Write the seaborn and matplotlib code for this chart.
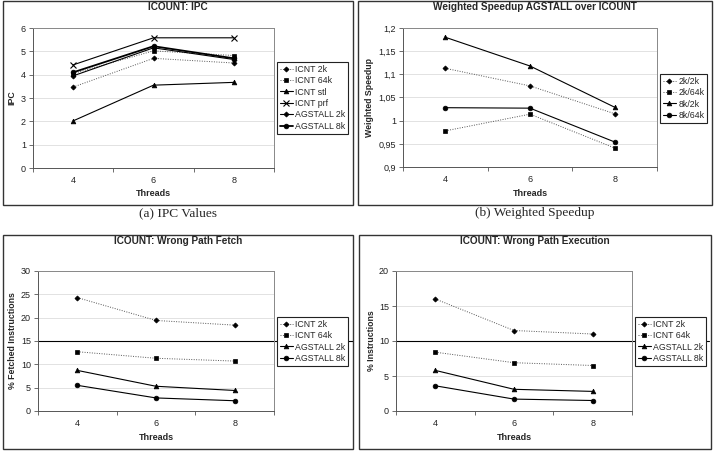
import numpy as np
import seaborn as sns
from matplotlib import pyplot as plt
from matplotlib.patches import Rectangle
from matplotlib.ticker import FixedLocator, FuncFormatter

threads = [4, 6, 8]

# (a) ICOUNT: IPC
ipc_labels = ['ICNT 2k', 'ICNT 64k', 'ICNT stl', 'ICNT prf', 'AGSTALL 2k', 'AGSTALL 8k']
ipc_icnt_2k = [3.47, 4.70, 4.50]
ipc_icnt_64k = [4.05, 5.02, 4.82]
ipc_icnt_stl = [2.02, 3.55, 3.67]
ipc_icnt_prf = [4.42, 5.58, 5.58]
ipc_agstall_2k = [3.95, 5.15, 4.65]
ipc_agstall_8k = [4.10, 5.22, 4.70]

# (b) Weighted speedup AGSTALL over ICOUNT
ws_labels = ['2k/2k', '2k/64k', '8k/2k', '8k/64k']
ws_2k_2k = [1.113, 1.075, 1.015]
ws_2k_64k = [0.978, 1.014, 0.941]
ws_8k_2k = [1.180, 1.118, 1.029]
ws_8k_64k = [1.028, 1.027, 0.954]

# wrong path fetch / execution
wp_labels = ['ICNT 2k', 'ICNT 64k', 'AGSTALL 2k', 'AGSTALL 8k']
fetch_icnt_2k = [24.3, 19.4, 18.4]
fetch_icnt_64k = [12.7, 11.3, 10.7]
fetch_agstall_2k = [8.7, 5.3, 4.4]
fetch_agstall_8k = [5.5, 2.8, 2.2]
exec_icnt_2k = [16.0, 11.5, 11.0]
exec_icnt_64k = [8.4, 6.9, 6.5]
exec_agstall_2k = [5.8, 3.1, 2.8]
exec_agstall_8k = [3.6, 1.7, 1.5]

sns.set_style('white')
plt.rcParams['font.family'] = ['Liberation Sans', 'DejaVu Sans']

W, H = 715, 453
fig = plt.figure(figsize=(W / 100, H / 100), dpi=100)


def fx(px):
    return px / W


def fy(py):
    return 1 - py / H


dotted = dict(color='#555555', linestyle=(0, (1, 1.5)), linewidth=0.7)
solid = dict(color='black', linestyle='-', linewidth=0.8)
thick = dict(color='black', linestyle='-', linewidth=1.3)

mk = {
    'D': dict(marker='D', markersize=2.6),
    's': dict(marker='s', markersize=3.2),
    '^': dict(marker='^', markersize=3.4),
    'x': dict(marker='x', markersize=4, markeredgewidth=0.8),
    'o': dict(marker='o', markersize=3.4),
}


def panel(box, axpos, title, ylabel, ylim, yticks, series, legpos,
          ylab_x, fmt=None, black_line=None):
    x0, y0, x1, y1 = box
    fig.add_artist(Rectangle((fx(x0), fy(y1)), fx(x1 - x0), (y1 - y0) / H,
                             transform=fig.transFigure, fill=False,
                             edgecolor='#333333', linewidth=1.0))
    l, t, r, b = axpos
    ax = fig.add_axes([fx(l), fy(b), fx(r - l), (b - t) / H])
    for lab, vals, style, m in series:
        kw = dict(style)
        kw.update(mk[m])
        kw.setdefault('markeredgewidth', 0.5)
        kw['markeredgecolor'] = 'black'
        kw['markerfacecolor'] = 'black'
        sns.lineplot(x=threads, y=vals, ax=ax, label=lab, **kw)
    ax.set_xlim(3, 9)
    ax.set_ylim(*ylim)
    ax.set_yticks(yticks)
    if fmt:
        ax.yaxis.set_major_formatter(FuncFormatter(fmt))
    ax.xaxis.set_major_locator(FixedLocator([3, 5, 7, 9]))
    ax.xaxis.set_minor_locator(FixedLocator(threads))
    ax.set_xticklabels([])
    ax.set_xticklabels([str(t) for t in threads], minor=True)
    ax.tick_params(axis='x', which='major', direction='out', length=3,
                   width=0.6, color='#555555', bottom=True)
    ax.tick_params(axis='x', which='minor', length=0, labelsize=6.5,
                   pad=6, labelcolor='#222222')
    ax.tick_params(axis='y', direction='out', length=3, width=0.6,
                   color='#555555', left=True, labelsize=6.5, pad=2,
                   labelcolor='#222222')
    ax.yaxis.grid(True, color='#dddddd', linewidth=0.6)
    ax.set_axisbelow(True)
    for s in ax.spines.values():
        s.set_color('#888888')
        s.set_linewidth(0.7)
    ax.spines['left'].set_color('#555555')
    ax.spines['bottom'].set_color('#555555')
    ax.set_xlabel('')
    ax.set_ylabel('')
    if black_line is not None:
        ax.axhline(black_line[0], xmin=0, xmax=black_line[1], color='black',
                   linewidth=0.8, clip_on=False, zorder=1)
    cx = (x0 + x1) / 2
    fig.text(fx(cx), fy(y0 + 6), title, ha='center', va='center',
             fontsize=7.2, fontweight='bold')
    fig.text(fx((l + r) / 2), fy(y1 - 12), 'Threads', ha='center',
             va='center', fontsize=6.5, fontweight='bold')
    fig.text(fx(ylab_x), fy((t + b) / 2), ylabel, ha='center', va='center',
             rotation=90, fontsize=6.3, fontweight='bold')
    handles, labels = ax.get_legend_handles_labels()
    ax.legend(handles=handles, labels=labels, loc='upper left',
              bbox_to_anchor=(fx(legpos[0]), fy(legpos[1])),
              bbox_transform=fig.transFigure, frameon=True, fancybox=False,
              edgecolor='#222222', fontsize=6.3, labelspacing=0.28,
              handlelength=1.55, handletextpad=0.25, borderpad=0.3,
              borderaxespad=0, framealpha=1)
    ax.get_legend().get_frame().set_linewidth(0.8)
    return ax


def comma(v, pos):
    return ('%g' % round(v, 3)).replace('.', ',')


panel((3, 1, 353, 205), (33, 28, 274, 168), 'ICOUNT: IPC', 'IPC',
      (0, 6), range(0, 7),
      [(ipc_labels[0], ipc_icnt_2k, dotted, 'D'),
       (ipc_labels[1], ipc_icnt_64k, dotted, 's'),
       (ipc_labels[2], ipc_icnt_stl, solid, '^'),
       (ipc_labels[3], ipc_icnt_prf, solid, 'x'),
       (ipc_labels[4], ipc_agstall_2k, solid, 'D'),
       (ipc_labels[5], ipc_agstall_8k, thick, 'o')],
      (277, 62), 12)

panel((358, 1, 712, 205), (403, 28, 657, 167),
      'Weighted Speedup AGSTALL over ICOUNT', 'Weighted Speedup',
      (0.9, 1.2), np.arange(0.9, 1.2001, 0.05),
      [(ws_labels[0], ws_2k_2k, dotted, 'D'),
       (ws_labels[1], ws_2k_64k, dotted, 's'),
       (ws_labels[2], ws_8k_2k, solid, '^'),
       (ws_labels[3], ws_8k_64k, solid, 'o')],
      (660, 74), 370, fmt=comma)

panel((3, 235, 353, 449), (38, 271, 274, 411), 'ICOUNT: Wrong Path Fetch',
      '% Fetched Instructions', (0, 30), range(0, 31, 5),
      [(wp_labels[0], fetch_icnt_2k, dotted, 'D'),
       (wp_labels[1], fetch_icnt_64k, dotted, 's'),
       (wp_labels[2], fetch_agstall_2k, solid, '^'),
       (wp_labels[3], fetch_agstall_8k, solid, 'o')],
      (277, 317), 13, black_line=(15, 1.335))

panel((359, 235, 711, 449), (396, 271, 632, 411),
      'ICOUNT: Wrong Path Execution', '% Instructions', (0, 20),
      range(0, 21, 5),
      [(wp_labels[0], exec_icnt_2k, dotted, 'D'),
       (wp_labels[1], exec_icnt_64k, dotted, 's'),
       (wp_labels[2], exec_agstall_2k, solid, '^'),
       (wp_labels[3], exec_agstall_8k, solid, 'o')],
      (635, 317), 371, black_line=(10, 1.326))

fig.text(fx(178), fy(213), '(a) IPC Values', ha='center', va='center',
         fontsize=9.6, family=['Liberation Serif', 'DejaVu Serif'])
fig.text(fx(535), fy(213), '(b) Weighted Speedup', ha='center', va='center',
         fontsize=9.6, family=['Liberation Serif', 'DejaVu Serif'])

plt.savefig('out.png', dpi=100)
